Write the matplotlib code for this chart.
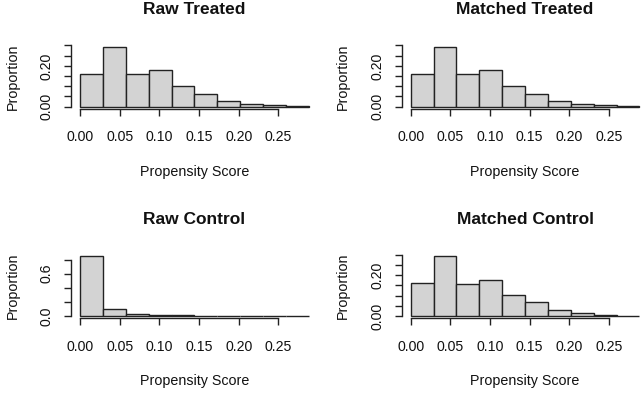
import matplotlib
matplotlib.use("Agg")
import matplotlib.pyplot as plt
import numpy as np

plt.rcParams['font.family'] = ['Liberation Sans', 'DejaVu Sans']

# ---- data ----
bin_edges = [0.0, 0.02885, 0.0577, 0.08655, 0.1154, 0.14425, 0.1731,
             0.20195, 0.2308, 0.25965, 0.2885]
raw_treated = [0.161, 0.294, 0.161, 0.178, 0.100, 0.062, 0.030, 0.015, 0.010, 0.002]
matched_treated = [0.161, 0.294, 0.161, 0.178, 0.100, 0.062, 0.030, 0.015, 0.010, 0.002]
raw_control = [0.845, 0.094, 0.031, 0.016, 0.008, 0.003, 0.001, 0.001, 0.0005, 0.0005]
matched_control = [0.164, 0.292, 0.156, 0.174, 0.102, 0.067, 0.029, 0.013, 0.006, 0.001]

titles = ["Raw Treated", "Matched Treated", "Raw Control", "Matched Control"]
series = [raw_treated, matched_treated, raw_control, matched_control]
x_ticks = [0.00, 0.05, 0.10, 0.15, 0.20, 0.25]
x_ticklabels = ["0.00", "0.05", "0.10", "0.15", "0.20", "0.25"]
y_ticks = [
    [0.00, 0.05, 0.10, 0.15, 0.20, 0.25, 0.30],
    [0.00, 0.05, 0.10, 0.15, 0.20, 0.25, 0.30],
    [0.0, 0.2, 0.4, 0.6, 0.8],
    [0.00, 0.05, 0.10, 0.15, 0.20, 0.25, 0.30],
]
y_ticklabels = [
    ["0.00", "", "", "", "0.20", "", ""],
    ["0.00", "", "", "", "0.20", "", ""],
    ["0.0", "", "", "0.6", ""],
    ["0.00", "", "", "", "0.20", "", ""],
]

W, H = 641, 393
fig = plt.figure(figsize=(W / 100, H / 100), dpi=100)

# pixel boxes (left, top, right, bottom) in image coords
boxes = [
    (70.9, 44.3, 318.0, 109.1),
    (401.5, 44.3, 648.6, 109.1),
    (70.9, 254.0, 318.0, 318.4),
    (401.5, 254.0, 648.6, 318.4),
]
ylabel_x = [12.5, 342.5, 12.5, 342.5]

edges = np.array(bin_edges)
widths = np.diff(edges)
xr = edges[-1] - edges[0]

for i in range(4):
    l, t, r, b = boxes[i]
    ax = fig.add_axes([l / W, 1 - b / H, (r - l) / W, (b - t) / H])
    vals = series[i]
    ax.bar(edges[:-1], vals, width=widths, align='edge',
           color='#D3D3D3', edgecolor='#222222', linewidth=1.0)
    ymax = max(vals)
    ax.set_xlim(edges[0] - 0.04 * xr, edges[-1] + 0.04 * xr)
    ax.set_ylim(-0.04 * ymax, 1.04 * ymax)
    for s in ['top', 'right']:
        ax.spines[s].set_visible(False)
    ax.spines['bottom'].set_bounds(x_ticks[0], x_ticks[-1])
    ax.spines['left'].set_bounds(y_ticks[i][0], y_ticks[i][-1])
    for s in ['bottom', 'left']:
        ax.spines[s].set_linewidth(1.0)
        ax.spines[s].set_color('#222222')
    ax.set_xticks(x_ticks)
    ax.set_xticklabels(x_ticklabels)
    ax.set_yticks(y_ticks[i])
    ax.set_yticklabels(y_ticklabels[i], rotation=90, va='center')
    ax.tick_params(axis='both', direction='out', length=5.2, width=1.0,
                   color='#222222', labelsize=10.2, labelcolor='#111111')
    ax.tick_params(axis='x', pad=10)
    ax.tick_params(axis='y', pad=7)
    hpx = b - t
    wpx = r - l
    ax.text(0.5, 1 + 34.3 / hpx, titles[i], transform=ax.transAxes,
            ha='center', va='center', fontsize=12.5, fontweight='bold',
            color='#111111')
    ax.set_xlabel("Propensity Score", fontsize=10.3, color='#111111')
    ax.xaxis.set_label_coords(0.5, -62.6 / hpx)
    ax.xaxis.label.set_va('center')
    ax.set_ylabel("Proportion", fontsize=10.3, color='#111111')
    ax.yaxis.set_label_coords((ylabel_x[i] - l) / wpx, 0.5)
    ax.yaxis.label.set_va('center')

fig.savefig("out.png", dpi=100)
